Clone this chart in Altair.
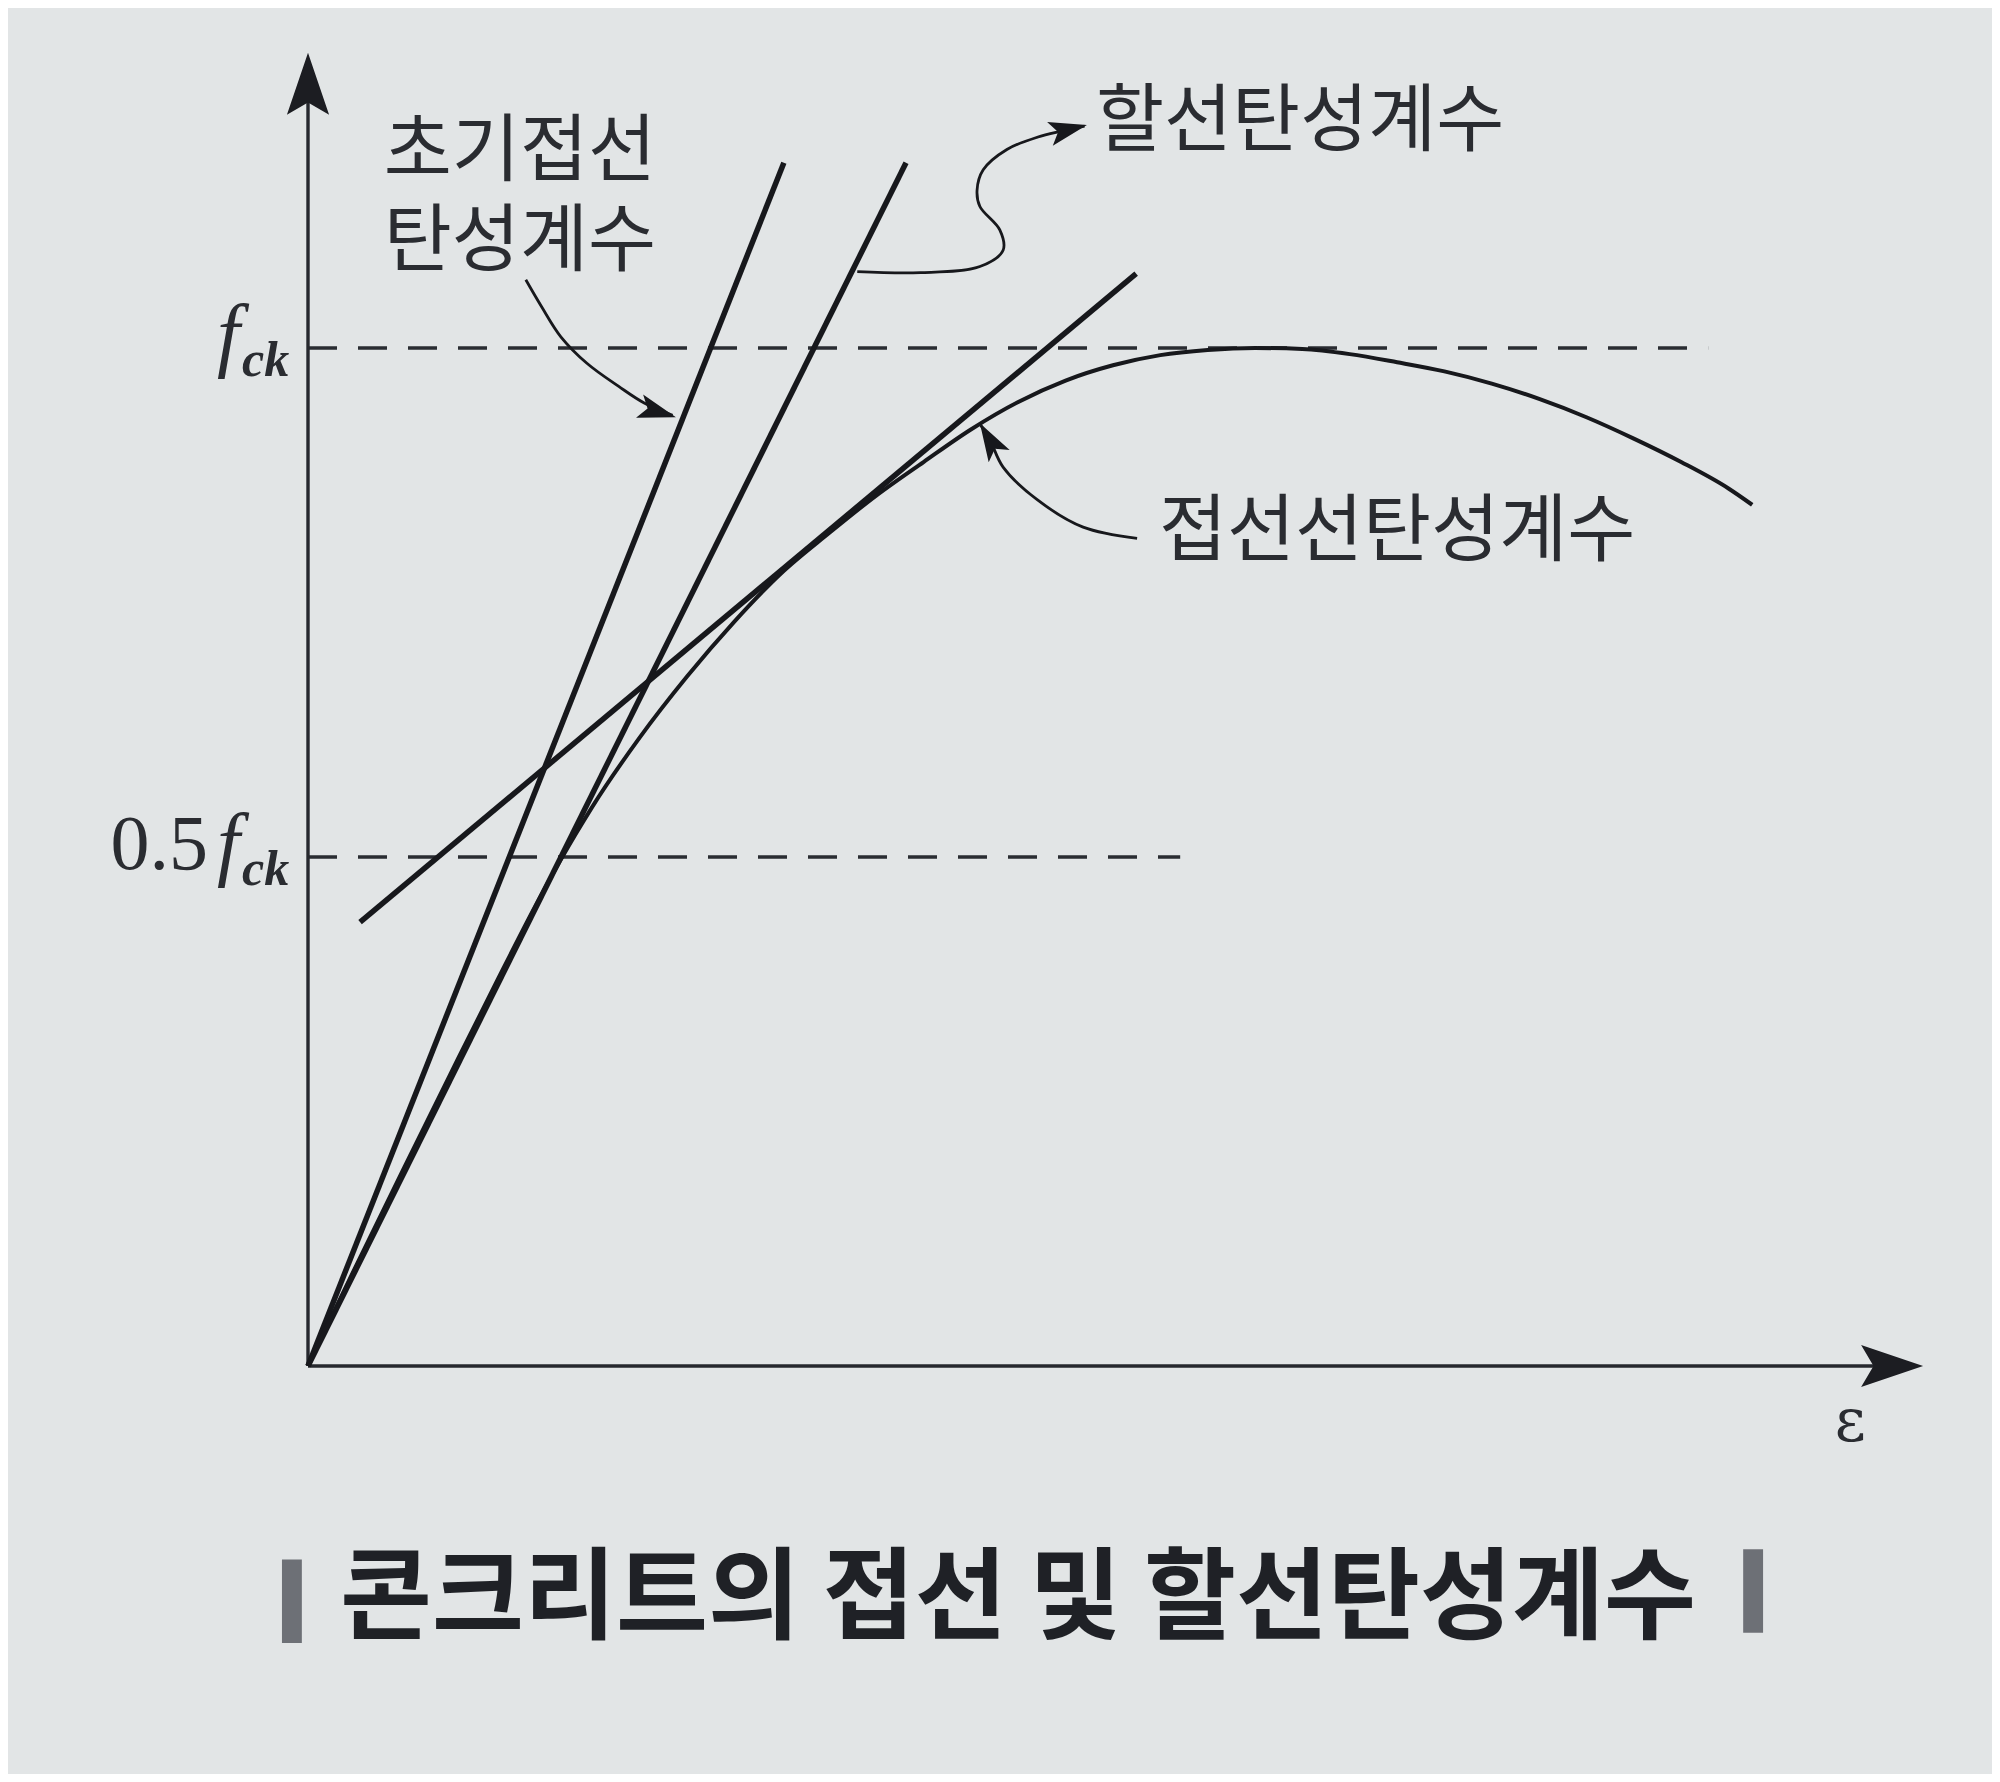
import altair as alt
import pandas as pd

# ---------------- values ----------------
# strain: arbitrary units (peak strain = 2.0); stress: in units of f_ck
curve_eps = [0.0, 0.1, 0.2, 0.3, 0.4, 0.5, 0.566, 0.6, 0.7, 0.8, 0.9, 1.0, 1.1, 1.2,
             1.3, 1.4, 1.5, 1.6, 1.7, 1.8, 1.9, 2.0, 2.1, 2.2, 2.3, 2.4, 2.5, 2.6,
             2.7, 2.8, 2.9, 3.0, 3.05]
curve_sig = [0.0, 0.097, 0.192, 0.286, 0.379, 0.469, 0.523, 0.549, 0.617, 0.677, 0.731,
             0.779, 0.818, 0.855, 0.888, 0.920, 0.947, 0.968, 0.983, 0.993, 0.998,
             1.000, 0.999, 0.994, 0.986, 0.977, 0.965, 0.950, 0.932, 0.911, 0.888,
             0.862, 0.846]

# straight lines: initial tangent, secant, tangent
line_names = ["initial", "secant", "tangent"]
line_e1 = [0.0, 0.0, 0.110]
line_s1 = [0.0, 0.0, 0.436]
line_e2 = [1.005, 1.263, 1.749]
line_s2 = [1.182, 1.182, 1.073]

# dashed reference levels (f_ck, 0.5 f_ck) and where they end
ref_levels = [1.0, 0.5]
ref_end_eps = [2.957, 1.842]

# axis arrow tips
axis_tip_eps = 3.411
axis_tip_sig = 1.290

# leader lines of the labels
lead1_e = [0.460, 0.494, 0.534, 0.589, 0.657, 0.710, 0.770]
lead1_s = [1.067, 1.040, 1.011, 0.985, 0.962, 0.946, 0.934]
lead2_e = [1.160, 1.293, 1.419, 1.468, 1.461, 1.419, 1.413, 1.426, 1.476, 1.540, 1.640]
lead2_s = [1.075, 1.074, 1.080, 1.096, 1.116, 1.139, 1.155, 1.175, 1.195, 1.207, 1.218]
lead3_e = [1.751, 1.637, 1.540, 1.468, 1.440, 1.421]
lead3_s = [0.813, 0.824, 0.851, 0.883, 0.910, 0.924]
lead_tip_e = [0.777, 1.645, 1.419]
lead_tip_s = [0.932, 1.219, 0.926]
lead_tip_angle = [107, 76.5, 329.5]

# labels
label_text = ["초기접선\n탄성계수", "할선탄성계수", "접선선탄성계수"]
label_e = [0.160, 1.664, 1.797]
label_s = [1.192, 1.221, 0.818]

title_text = "콘크리트의 접선 및 할선탄성계수"
title_e, title_s = 1.4995, -0.231
bar_e1 = [-0.055, 3.031]
bar_e2 = [-0.013, 3.073]
bar_s1 = [-0.190, -0.180]
bar_s2 = [-0.272, -0.262]

eps_label_e, eps_label_s = 3.257, -0.056

# ---------------- layout / styles ----------------
W, H = 1984, 1766
X0, Y0 = 300, 1358          # plot-pixel position of origin
PXE, PXS = 473.5, 1018.0    # pixels per unit
BG = "#e2e5e6"
INK = "#17181c"
TXT = "#2a2c31"
KR = "Noto Sans CJK KR"
SERIF = "Liberation Serif"

xs = alt.Scale(domain=[-X0 / PXE, (W - X0) / PXE], nice=False, zero=False)
ys = alt.Scale(domain=[(Y0 - H) / PXS, Y0 / PXS], nice=False, zero=False)


def X(f):
    return alt.X(f, type="quantitative", scale=xs, axis=None)


def Y(f):
    return alt.Y(f, type="quantitative", scale=ys, axis=None)


AXIS_HEAD = "M0,0 L0.34,1 L0,0.8 L-0.34,1 Z"
LEAD_HEAD = "M0,0 L0.32,1 L0,0.78 L-0.32,1 Z"

# axes
df_axes = pd.DataFrame({
    "e": [0.0, 0.0], "s": [0.0, 0.0],
    "e2": [0.0, axis_tip_eps - 0.03], "s2": [axis_tip_sig - 0.015, 0.0],
})
axes = alt.Chart(df_axes).mark_rule(color="#26282e", strokeWidth=3.4).encode(
    x=X("e"), y=Y("s"), x2="e2:Q", y2="s2:Q")

df_axhead = pd.DataFrame({"e": [0.0, axis_tip_eps], "s": [axis_tip_sig, 0.0], "a": [0, 90]})
axheads = alt.Chart(df_axhead).mark_point(
    shape=AXIS_HEAD, filled=True, size=124 * 124, opacity=1, color="#1c1d22", strokeWidth=0
).encode(x=X("e"), y=Y("s"), angle=alt.Angle("a:Q", scale=None))

# dashed reference lines
df_ref = pd.DataFrame({"e": [0.0] * len(ref_levels), "e2": ref_end_eps, "s": ref_levels})
refs = alt.Chart(df_ref).mark_rule(color="#2a2c32", strokeWidth=3.6, strokeDash=[29, 21]).encode(
    x=X("e"), x2="e2:Q", y=Y("s"))

# stress-strain curve
df_curve = pd.DataFrame({"e": curve_eps, "s": curve_sig})
curve = alt.Chart(df_curve).mark_line(color=INK, strokeWidth=4, interpolate="monotone").encode(
    x=X("e"), y=Y("s"))

# straight modulus lines
df_lines = pd.DataFrame({"n": line_names, "e": line_e1, "s": line_s1, "e2": line_e2, "s2": line_s2})
lines = alt.Chart(df_lines).mark_rule(color=INK, strokeWidth=5.5).encode(
    x=X("e"), y=Y("s"), x2="e2:Q", y2="s2:Q", detail="n:N")

# leader lines
rows = []
for g, (le, ls) in enumerate([(lead1_e, lead1_s), (lead2_e, lead2_s), (lead3_e, lead3_s)]):
    for i, (a, b) in enumerate(zip(le, ls)):
        rows.append({"g": g, "i": i, "e": a, "s": b})
df_lead = pd.DataFrame(rows)
leaders = alt.Chart(df_lead).mark_line(color=INK, strokeWidth=2.8, interpolate="catmull-rom").encode(
    x=X("e"), y=Y("s"), order="i:Q", detail="g:N")

df_lhead = pd.DataFrame({"e": lead_tip_e, "s": lead_tip_s, "a": lead_tip_angle})
lheads = alt.Chart(df_lhead).mark_point(
    shape=LEAD_HEAD, filled=True, size=76 * 76, opacity=1, color=INK, strokeWidth=0
).encode(x=X("e"), y=Y("s"), angle=alt.Angle("a:Q", scale=None))

# Korean labels
df_lab = pd.DataFrame({"t": label_text, "e": label_e, "s": label_s})
labels = alt.Chart(df_lab).mark_text(
    font=KR, fontSize=74, color=TXT, align="left", baseline="middle",
    lineBreak="\n", lineHeight=90
).encode(x=X("e"), y=Y("s"), text="t:N")

# y-axis level labels: f_ck and 0.5 f_ck
df_f = pd.DataFrame({"e": [0.0, 0.0], "s": ref_levels, "t": ["f", "f"]})
lab_f = alt.Chart(df_f).mark_text(
    font=SERIF, fontStyle="italic", fontSize=82, color=TXT, align="left",
    baseline="alphabetic", dx=-91, dy=13
).encode(x=X("e"), y=Y("s"), text="t:N")
df_ck = pd.DataFrame({"e": [0.0, 0.0], "s": ref_levels, "t": ["ck", "ck"]})
lab_ck = alt.Chart(df_ck).mark_text(
    font=SERIF, fontStyle="italic", fontWeight="bold", fontSize=50, color=TXT, align="left",
    baseline="alphabetic", dx=-66, dy=28
).encode(x=X("e"), y=Y("s"), text="t:N")
df_half = pd.DataFrame({"e": [0.0], "s": [0.5], "t": ["0.5"]})
lab_half = alt.Chart(df_half).mark_text(
    font=SERIF, fontSize=78, color=TXT, align="right", baseline="alphabetic", dx=-100, dy=12
).encode(x=X("e"), y=Y("s"), text="t:N")

# epsilon label
df_eps = pd.DataFrame({"e": [eps_label_e], "s": [eps_label_s], "t": ["ε"]})
lab_eps = alt.Chart(df_eps).mark_text(
    font="DejaVu Serif", fontSize=60, color=TXT, align="center", baseline="middle"
).encode(x=X("e"), y=Y("s"), text="t:N")

# caption with side bars
df_bar = pd.DataFrame({"e": bar_e1, "e2": bar_e2, "s": bar_s1, "s2": bar_s2})
bars = alt.Chart(df_bar).mark_rect(color="#606369", opacity=0.9).encode(
    x=X("e"), x2="e2:Q", y=Y("s"), y2="s2:Q")
df_title = pd.DataFrame({"e": [title_e], "s": [title_s], "t": [title_text]})
title = alt.Chart(df_title).mark_text(
    font=KR, fontSize=100, fontWeight="bold", color="#1f2126", align="center", baseline="middle"
).encode(x=X("e"), y=Y("s"), text="t:N")

chart = alt.layer(
    refs, axes, axheads, curve, lines, leaders, lheads,
    labels, lab_f, lab_ck, lab_half, lab_eps, bars, title
).properties(
    width=W, height=H, padding=0, autosize="none", background=BG
).configure_view(strokeWidth=0)

chart.save("out.html", embed_options={"renderer": "svg", "actions": False})
